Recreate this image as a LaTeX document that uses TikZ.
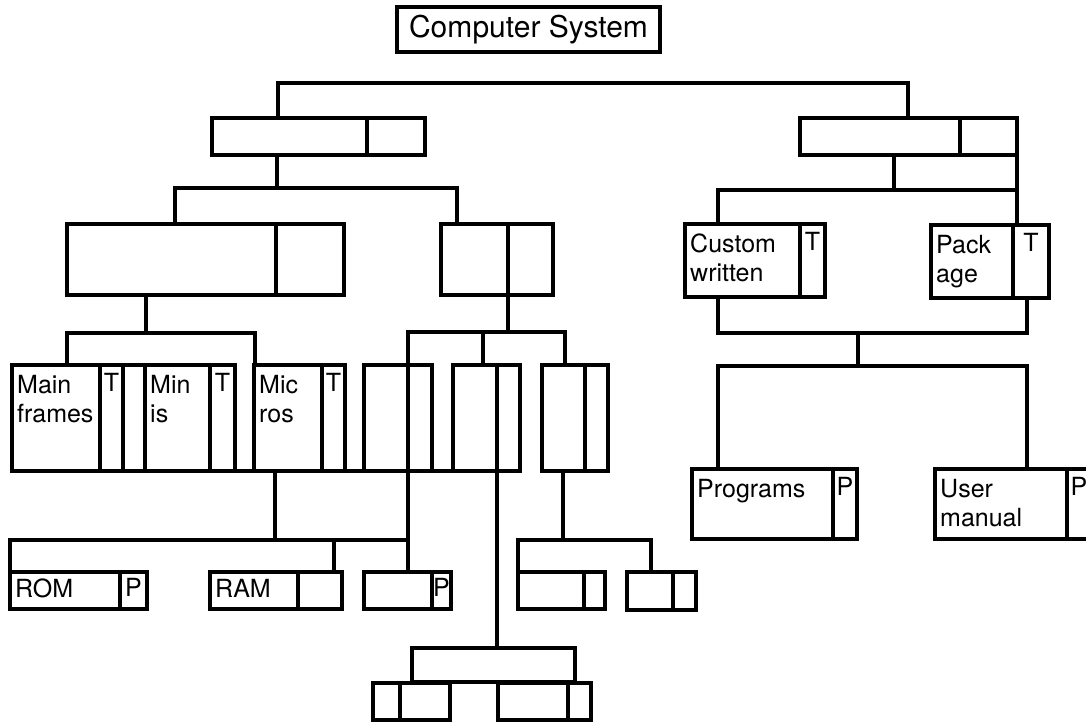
\documentclass[tikz,border=0pt]{standalone}
\usepackage{fontspec}
\setmainfont{TeX Gyre Heros}
\usepackage{tikz}
\newcommand{\boxfont}{\fontsize{25}{29}\selectfont}
\newcommand{\headfont}{\fontsize{30}{34}\selectfont}
\tikzset{
  box/.style={draw, line width=3.3pt, anchor=north west, inner sep=0pt, outer sep=0pt},
  lbl/.style={anchor=north west, align=left, inner xsep=5pt, inner ysep=10pt, font=\boxfont},
  tag/.style={anchor=north, inner xsep=0pt, inner ysep=8pt, font=\boxfont},
  wire/.style={line width=3.3pt}
}
\begin{document}
\begin{tikzpicture}[x=1pt, y=-1pt]

  \clip (0,0) rectangle (1086,725);
  \fill[white] (0,0) rectangle (1086,725);

  % Title
  \node[draw, line width=3.3pt, minimum width=263pt, minimum height=45pt, inner sep=0pt, font=\headfont]
    (sys) at (528.5,29.5) {Computer System};

  % Level 1
  \node[box, minimum width=155pt, minimum height=37pt] (hw) at (212,118) {};
  \node[box, minimum width=58pt, minimum height=37pt] (hwc) at (hw.north east) {};
  \node[box, minimum width=160pt, minimum height=37pt] (sw) at (800,118) {};
  \node[box, minimum width=57pt, minimum height=37pt] (swc) at (sw.north east) {};

  % Level 2
  \node[box, minimum width=209pt, minimum height=71pt] (kind) at (67,224) {};
  \node[box, minimum width=68pt, minimum height=71pt] (kindc) at (kind.north east) {};
  \node[box, minimum width=67pt, minimum height=71pt] (part) at (441,224) {};
  \node[box, minimum width=45pt, minimum height=71pt] (partc) at (part.north east) {};

  \node[box, minimum width=115pt, minimum height=73pt] (cw) at (685,224) {};
  \node[box, minimum width=25pt, minimum height=73pt] (cwc) at (cw.north east) {};
  \node[lbl] (cw-t) at (cw.north west) {Custom\\written};
  \node[tag] (cwc-t) at (cwc.north) {T};
  \node[box, minimum width=82pt, minimum height=73pt] (pk) at (931,225) {};
  \node[box, minimum width=36pt, minimum height=73pt] (pkc) at (pk.north east) {};
  \node[lbl] (pk-t) at (pk.north west) {Pack\\age};
  \node[tag] (pkc-t) at (pkc.north) {T};

  % Level 3 - machines and parts
  \node[box, minimum width=88pt, minimum height=106pt] (mf) at (12,365) {};
  \node[box, minimum width=23pt, minimum height=106pt] (mfc) at (mf.north east) {};
  \node[box, minimum width=22pt, minimum height=106pt] (mfx) at (mfc.north east) {};
  \node[lbl] (mf-t) at (mf.north west) {Main\\frames};
  \node[tag] (mfc-t) at (mfc.north) {T};
  \node[box, minimum width=65pt, minimum height=106pt] (mn) at (145,365) {};
  \node[box, minimum width=25pt, minimum height=106pt] (mnc) at (mn.north east) {};
  \node[lbl] (mn-t) at (mn.north west) {Min\\is};
  \node[tag] (mnc-t) at (mnc.north) {T};
  \node[box, minimum width=68pt, minimum height=106pt] (mc) at (254,365) {};
  \node[box, minimum width=23pt, minimum height=106pt] (mcc) at (mc.north east) {};
  \node[lbl] (mc-t) at (mc.north west) {Mic\\ros};
  \node[tag] (mcc-t) at (mcc.north) {T};
  \node[box, minimum width=68pt, minimum height=106pt] (pa) at (364,365) {};
  \node[box, minimum width=44pt, minimum height=106pt] (pb) at (453,365) {};
  \node[box, minimum width=23pt, minimum height=106pt] (pbc) at (pb.north east) {};
  \node[box, minimum width=43pt, minimum height=106pt] (pc) at (542,365) {};
  \node[box, minimum width=23pt, minimum height=106pt] (pcc) at (pc.north east) {};

  \node[box, minimum width=141pt, minimum height=70pt] (pg) at (692,469) {};
  \node[box, minimum width=24pt, minimum height=70pt] (pgc) at (pg.north east) {};
  \node[lbl] (pg-t) at (pg.north west) {Programs};
  \node[tag] (pgc-t) at (pgc.north) {P};
  \node[box, minimum width=132pt, minimum height=70pt] (um) at (935,469) {};
  \node[box, minimum width=24pt, minimum height=70pt] (umc) at (um.north east) {};
  \node[lbl] (um-t) at (um.north west) {User\\manual};
  \node[tag] (umc-t) at (umc.north) {P};

  % Level 4
  \node[box, minimum width=110pt, minimum height=37pt] (rom) at (10,572) {};
  \node[box, minimum width=27pt, minimum height=37pt] (romc) at (rom.north east) {};
  \node[lbl, inner ysep=7pt] (rom-t) at (rom.north west) {ROM};
  \node[tag, inner ysep=6pt] (romc-t) at (romc.north) {P};
  \node[box, minimum width=88pt, minimum height=37pt] (ram) at (210,572) {};
  \node[box, minimum width=44pt, minimum height=37pt] (ramc) at (ram.north east) {};
  \node[lbl, inner ysep=7pt] (ram-t) at (ram.north west) {RAM};
  \node[box, minimum width=68pt, minimum height=37pt] (px) at (364,572) {};
  \node[box, minimum width=19pt, minimum height=37pt] (pxc) at (px.north east) {};
  \node[tag, inner ysep=6pt] (pxc-t) at (pxc.north) {P};
  \node[box, minimum width=66pt, minimum height=37pt] (da) at (518,572) {};
  \node[box, minimum width=21pt, minimum height=37pt] (dac) at (da.north east) {};
  \node[box, minimum width=46pt, minimum height=38pt] (db) at (627,572) {};
  \node[box, minimum width=23pt, minimum height=38pt] (dbc) at (db.north east) {};

  % Level 5
  \node[box, minimum width=163pt, minimum height=34pt] (fk) at (412,648) {};
  \node[box, minimum width=27pt, minimum height=37pt] (eac) at (373,683) {};
  \node[box, minimum width=50pt, minimum height=37pt] (ea) at (eac.north east) {};
  \node[box, minimum width=70pt, minimum height=37pt] (eb) at (498,683) {};
  \node[box, minimum width=23pt, minimum height=37pt] (ebc) at (eb.north east) {};

  % Connectors
  \coordinate (t1) at (278,83);
  \coordinate (t2) at (908,83);
  \draw[wire] (hw.north -| t1) -- (t1) -- (t2) -- (sw.north -| t2);

  \coordinate (h0) at (277,188);
  \coordinate (h1) at (175,188);
  \coordinate (h2) at (457,188);
  \draw[wire] (hw.south -| h0) -- (h0);
  \draw[wire] (kind.north -| h1) -- (h1) -- (h2) -- (part.north -| h2);

  \coordinate (a0) at (146,333);
  \coordinate (a1) at (67,333);
  \coordinate (a2) at (255,333);
  \draw[wire] (kind.south -| a0) -- (a0);
  \draw[wire] (mf.north -| a1) -- (a1) -- (a2) -- (mc.north -| a2);

  \coordinate (b0) at (508,332);
  \coordinate (b1) at (408,332);
  \coordinate (b2) at (565,332);
  \coordinate (b3) at (483,332);
  \draw[wire] (partc.south west) -- (b0);
  \draw[wire] (px.north -| b1) -- (b1) -- (b2) -- (pc.north -| b2);
  \draw[wire] (b3) -- (pb.north -| b3);

  \draw[wire] (mnc.south east) -- (mc.south west);
  \draw[wire] (mcc.south east) -- (pa.south west);
  \draw[wire] (pa.south east) -- (pb.south west);

  \coordinate (m0) at (275,540);
  \coordinate (m1) at (10,540);
  \coordinate (m2) at (334,540);
  \coordinate (m3) at (408,540);
  \draw[wire] (mc.south -| m0) -- (m0);
  \draw[wire] (rom.north west) -- (m1) -- (m3);
  \draw[wire] (m2) -- (ram.north -| m2);

  \coordinate (c0) at (563,540);
  \coordinate (c1) at (518,540);
  \coordinate (c2) at (651,540);
  \draw[wire] (pc.south -| c0) -- (c0);
  \draw[wire] (da.north west) -- (c1) -- (c2) -- (db.north -| c2);

  \draw[wire] (pbc.south west) -- (fk.north -| pbc.south west);

  \coordinate (s0) at (894,190);
  \coordinate (s1) at (718,190);
  \coordinate (s2) at (1017,190);
  \draw[wire] (sw.south -| s0) -- (s0);
  \draw[wire] (cw.north -| s1) -- (s1) -- (s2);
  \draw[wire] (swc.south east) -- (pk.north -| swc.south east);

  \coordinate (u0) at (858,333);
  \coordinate (u1) at (718,333);
  \coordinate (u2) at (1027,333);
  \coordinate (v0) at (858,366);
  \coordinate (v1) at (718,366);
  \coordinate (v2) at (1027,366);
  \draw[wire] (cw.south -| u1) -- (u1) -- (u2) -- (pkc.south -| u2);
  \draw[wire] (u0) -- (v0);
  \draw[wire] (pg.north -| v1) -- (v1) -- (v2) -- (um.north -| v2);

\end{tikzpicture}
\end{document}
